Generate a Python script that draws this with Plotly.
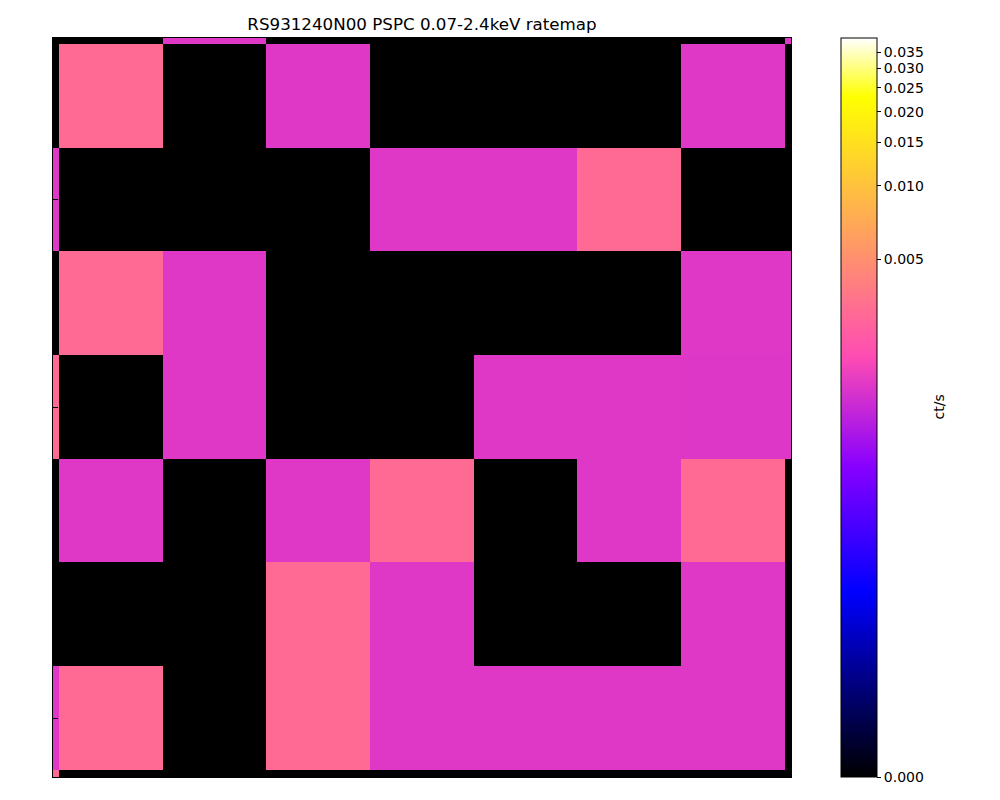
import numpy as np
import plotly.graph_objects as go

# ---- data (count rate per sky pixel, ct/s), rows listed from bottom (row 0) to top (row 8)
x_pix = [0, 1, 2, 3, 4, 5, 6, 7, 8]
y_pix = [0, 1, 2, 3, 4, 5, 6, 7, 8]
rate_rows = [
    [0.00302, 0, 0, 0, 0, 0, 0, 0, 0],                                  # row 0 (partial bottom)
    [0.00151, 0.00302, 0, 0.00302, 0.00151, 0.00151, 0.00151, 0.00151, 0],  # row 1
    [0, 0, 0, 0.00302, 0.00151, 0, 0, 0.00151, 0],                      # row 2
    [0, 0.00151, 0, 0.00151, 0.00302, 0, 0.00151, 0.00302, 0],          # row 3
    [0.00302, 0, 0.00151, 0, 0, 0.00151, 0.00151, 0.00148, 0.00148],    # row 4
    [0, 0.00302, 0.00151, 0, 0, 0, 0, 0.00151, 0.00151],                # row 5
    [0.00151, 0, 0, 0, 0.00151, 0.00151, 0.00302, 0, 0],                # row 6
    [0, 0.00302, 0, 0.00151, 0, 0, 0, 0.00151, 0],                      # row 7
    [0, 0, 0.00151, 0, 0, 0, 0, 0, 0.00151],                            # row 8 (partial top)
]
cbar_ticks = [0.0, 0.005, 0.010, 0.015, 0.020, 0.025, 0.030, 0.035]
vmin, vmax = 0.0, 0.0399
title = "RS931240N00 PSPC 0.07-2.4keV ratemap"
cbar_label = "ct/s"


# ---- astropy-like log stretch (a=1000)
def stretch(v):
    v = np.clip((np.asarray(v, dtype=float) - vmin) / (vmax - vmin), 0, 1)
    return np.log(1000.0 * v + 1.0) / np.log(1001.0)


# ---- matplotlib gnuplot2 colormap
def gnuplot2(x):
    r = np.clip(x / 0.32 - 0.78125, 0, 1)
    g = np.clip(2 * x - 0.84, 0, 1)
    if x < 0.25:
        b = 4 * x
    elif x < 0.42:
        b = 1.0
    elif x < 0.92:
        b = -2 * x + 1.84
    else:
        b = x / 0.08 - 11.5
    b = np.clip(b, 0, 1)
    return "rgb(%d,%d,%d)" % (round(r * 255), round(g * 255), round(b * 255))


cs_pos = np.linspace(0, 1, 256)
colorscale = [[float(p), gnuplot2(p)] for p in cs_pos]

z = stretch(np.array(rate_rows))

fig = go.Figure(
    go.Heatmap(
        x=x_pix,
        y=y_pix,
        z=z,
        zmin=0,
        zmax=1,
        colorscale=colorscale,
        zsmooth=False,
        colorbar=dict(
            x=(840 - 52) / 738,
            xanchor="left",
            xpad=0,
            y=0.5,
            yanchor="middle",
            ypad=0,
            len=1,
            lenmode="fraction",
            thickness=36,
            outlinecolor="black",
            outlinewidth=1,
            tickvals=[float(t) for t in stretch(cbar_ticks)],
            ticktext=["%.3f" % t for t in cbar_ticks],
            ticks="outside",
            ticklen=4,
            tickcolor="black",
            tickfont=dict(family="DejaVu Sans", size=14, color="black"),
        ),
    )
)

# page body adds ~7px offset in the browser; compensate in margins
fig.update_layout(
    width=1000,
    height=800,
    margin=dict(l=45, r=217, t=30, b=31, autoexpand=False),
    paper_bgcolor="white",
    plot_bgcolor="black",
    title=dict(
        text=title,
        x=0.5,
        xref="paper",
        xanchor="center",
        y=1 - 16 / 800,
        yref="container",
        yanchor="middle",
        font=dict(family="DejaVu Sans", size=16.7, color="black"),
    ),
    annotations=[
        dict(
            text=cbar_label,
            x=(937 - 52) / 738,
            y=0.5,
            xref="paper",
            yref="paper",
            xanchor="center",
            yanchor="middle",
            textangle=-90,
            showarrow=False,
            font=dict(family="DejaVu Sans", size=14, color="black"),
        )
    ],
)

fig.update_xaxes(
    range=[0.5 - 6 / 103.7, 7.5 + 6 / 103.7],
    tickvals=[1, 2, 3, 4, 5, 6, 7],
    showticklabels=False,
    ticks="inside",
    ticklen=5,
    tickcolor="black",
    showgrid=False,
    zeroline=False,
    showline=True,
    linecolor="black",
    linewidth=1,
    mirror=True,
)
fig.update_yaxes(
    range=[0.5 - 7 / 103.7, 7.5 + 6 / 103.7],
    tickvals=[1, 2, 3, 4, 5, 6, 7],
    showticklabels=False,
    ticks="inside",
    ticklen=5,
    tickcolor="black",
    showgrid=False,
    zeroline=False,
    showline=True,
    linecolor="black",
    linewidth=1,
    mirror=True,
)

fig.write_html("out.html")
